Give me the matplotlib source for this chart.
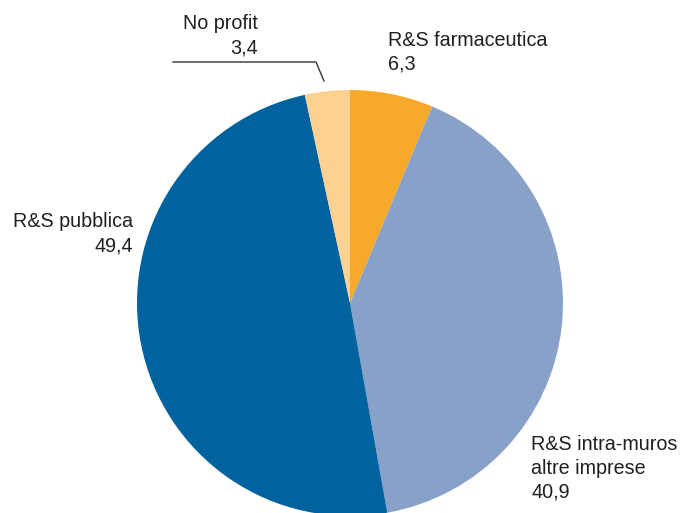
import matplotlib
matplotlib.use("Agg")
import matplotlib.pyplot as plt

# Data
labels = ["R&S farmaceutica", "R&S intra-muros\naltre imprese", "R&S pubblica", "No profit"]
values = [6.3, 40.9, 49.4, 3.4]
value_labels = ["6,3", "40,9", "49,4", "3,4"]
colors = ["#F7A929", "#88A1C8", "#00629E", "#FDD18F"]

W, H = 681, 513
fig = plt.figure(figsize=(W / 100, H / 100), dpi=100)
ax = fig.add_axes([0, 0, 1, 1])

cx, cy, r = 350, H - 303, 213
ax.pie(values, colors=colors, startangle=90, counterclock=False,
       center=(cx, cy), radius=r, frame=True,
       wedgeprops=dict(linewidth=0))
ax.set_xlim(0, W)
ax.set_ylim(0, H)
ax.set_aspect("equal")
ax.axis("off")

# label anchor (x, first baseline in px from top, alignment)
anchors = [(388, 46, "left"), (531, 450, "left"), (133, 227, "right"), (258, 29, "right")]
pitch = 24
for lab, val, (x, y0, ha) in zip(labels, value_labels, anchors):
    lines = lab.split("\n") + [val]
    for i, line in enumerate(lines):
        ax.text(x, H - (y0 + i * pitch), line, ha=ha, va="baseline",
                fontsize=14.2, color="#231F20", family="Liberation Sans")

# leader line for "No profit"
ax.plot([173, 316, 324], [H - 62, H - 62, H - 81], color="#333333", lw=1)

fig.savefig("out.png", dpi=100)
